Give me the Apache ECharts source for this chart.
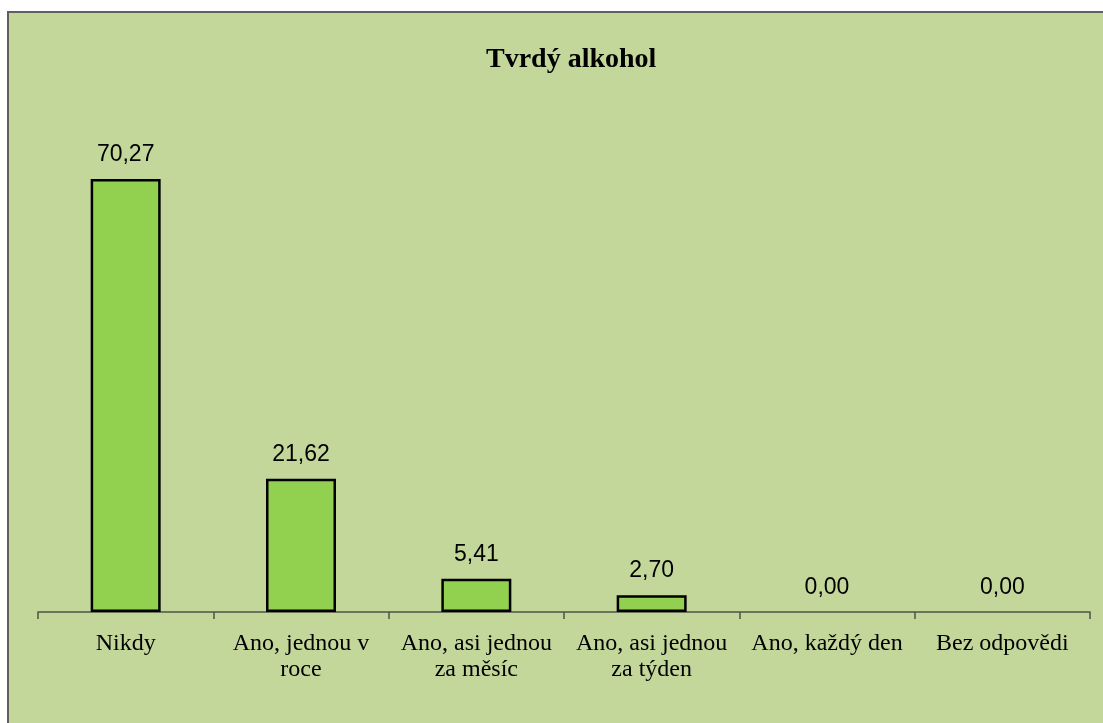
<!DOCTYPE html>
<html>
<head>
<meta charset="utf-8">
<script src="https://cdn.jsdelivr.net/npm/echarts@6/dist/echarts.min.js"></script>
<style>
html,body{margin:0;padding:0;background:#ffffff;}
#chart{width:1103px;height:723px;}
</style>
</head>
<body>
<div id="chart"></div>
<script>
const titleText = 'Tvrdý alkohol';
const categories = ['Nikdy', 'Ano, jednou v\nroce', 'Ano, asi jednou\nza měsíc', 'Ano, asi jednou\nza týden', 'Ano, každý den', 'Bez odpovědi'];
const values = [70.27, 21.62, 5.41, 2.70, 0.00, 0.00];

const barData = values.map(function (v) {
  return {value: v, itemStyle: {borderWidth: v === 0 ? 0 : 2.5}};
});

const chart = echarts.init(document.getElementById('chart'), null, {renderer: 'canvas'});
chart.setOption({
  backgroundColor: '#ffffff',
  animation: false,
  graphic: [{
    type: 'rect',
    z: -10,
    silent: true,
    shape: {x: 8, y: 12, width: 1110, height: 730},
    style: {fill: '#C4D79B', stroke: '#5f5f5f', lineWidth: 2}
  }],
  title: {
    text: titleText,
    left: 486,
    top: 46,
    padding: 0,
    textStyle: {fontFamily: '"Liberation Serif", "Times New Roman", serif', fontWeight: 'bold', fontSize: 28, color: '#000000'}
  },
  grid: {left: 38, right: 13, top: 119, bottom: 111, containLabel: false},
  xAxis: {
    type: 'category',
    data: categories,
    axisLine: {show: true, lineStyle: {color: '#4e5446', width: 1.5}},
    axisTick: {show: true, length: 7, lineStyle: {color: '#4e5446', width: 1.5}},
    axisLabel: {
      interval: 0,
      margin: 19,
      fontFamily: '"Liberation Serif", "Times New Roman", serif',
      fontSize: 24,
      lineHeight: 26,
      color: '#000000'
    }
  },
  yAxis: {
    type: 'value',
    min: 0,
    max: 80,
    show: false,
    splitLine: {show: false}
  },
  series: [{
    type: 'bar',
    data: barData,
    barWidth: 70,
    itemStyle: {color: '#92D050', borderColor: '#000000', borderWidth: 2.5},
    label: {
      show: true,
      position: 'top',
      distance: 13,
      fontFamily: '"Liberation Sans", Arial, sans-serif',
      fontSize: 23,
      color: '#000000',
      formatter: function (p) { return p.value.toFixed(2).replace('.', ','); }
    }
  }]
});
</script>
</body>
</html>
